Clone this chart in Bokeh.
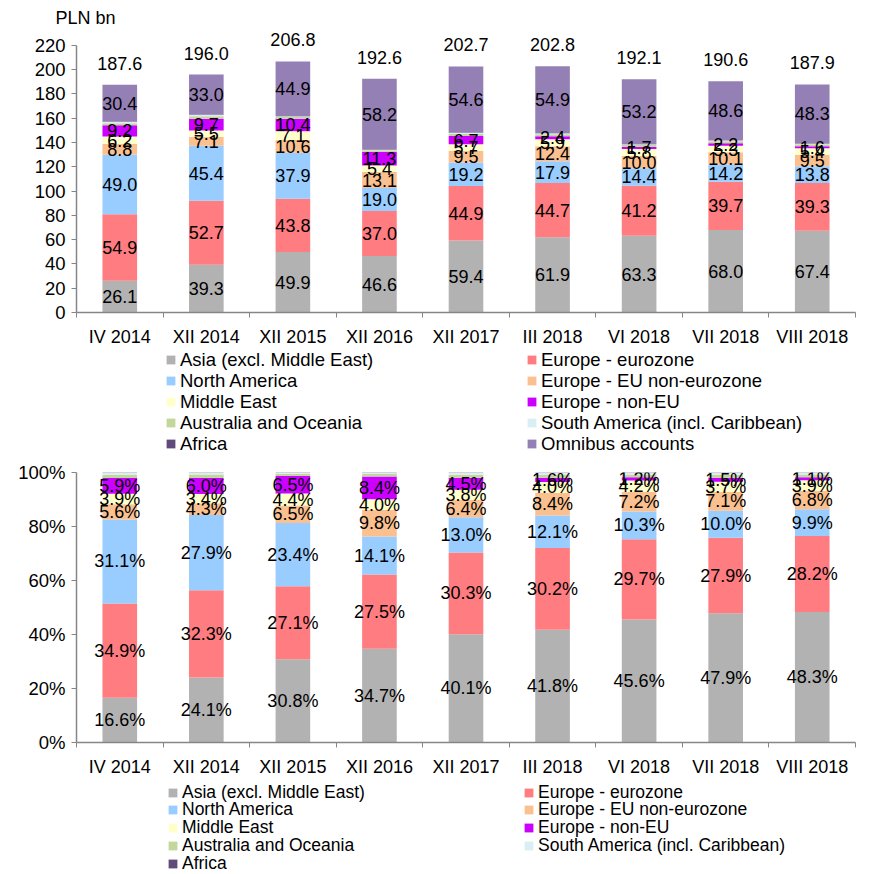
from bokeh.plotting import figure
from bokeh.models import (Range1d, FixedTicker, Legend, LegendItem,
                          ColumnDataSource, PrintfTickFormatter)
from bokeh.layouts import column
from bokeh.embed import file_html
from bokeh.resources import INLINE
from bokeh.core.properties import value

FONT = "Liberation Sans"

categories = ["IV 2014", "XII 2014", "XII 2015", "XII 2016", "XII 2017",
              "III 2018", "VI 2018", "VII 2018", "VIII 2018"]

series_names = ["Asia (excl. Middle East)", "Europe - eurozone", "North America",
                "Europe - EU non-eurozone", "Middle East", "Europe - non-EU",
                "Australia and Oceania", "South America (incl. Caribbean)",
                "Africa", "Omnibus accounts"]
colors = ["#B2B2B2", "#FF7C80", "#99CCFF", "#FAC090", "#FFFFCC", "#CC00FF",
          "#C3D69B", "#DAEEF3", "#604A7B", "#9580B5"]

# Top chart, PLN bn
asia = [26.1, 39.3, 49.9, 46.6, 59.4, 61.9, 63.3, 68.0, 67.4]
eurozone = [54.9, 52.7, 43.8, 37.0, 44.9, 44.7, 41.2, 39.7, 39.3]
north_america = [49.0, 45.4, 37.9, 19.0, 19.2, 17.9, 14.4, 14.2, 13.8]
eu_non_euro = [8.8, 7.1, 10.6, 13.1, 9.5, 12.4, 10.0, 10.1, 9.5]
middle_east = [6.2, 5.5, 7.1, 5.4, 5.7, 5.9, 5.8, 5.3, 5.4]
non_eu = [9.2, 9.7, 10.4, 11.3, 6.7, 2.4, 1.7, 2.2, 1.6]
australia = [1.8, 2.0, 1.3, 1.2, 1.6, 1.6, 1.5, 1.5, 1.6]
south_america = [0.9, 1.0, 0.6, 0.5, 0.8, 0.8, 0.7, 0.7, 0.7]
africa = [0.3, 0.3, 0.3, 0.3, 0.3, 0.3, 0.3, 0.3, 0.3]
omnibus = [30.4, 33.0, 44.9, 58.2, 54.6, 54.9, 53.2, 48.6, 48.3]
totals = [187.6, 196.0, 206.8, 192.6, 202.7, 202.8, 192.1, 190.6, 187.9]

# Bottom chart, % (excluding omnibus accounts)
asia_pct = [16.6, 24.1, 30.8, 34.7, 40.1, 41.8, 45.6, 47.9, 48.3]
eurozone_pct = [34.9, 32.3, 27.1, 27.5, 30.3, 30.2, 29.7, 27.9, 28.2]
north_america_pct = [31.1, 27.9, 23.4, 14.1, 13.0, 12.1, 10.3, 10.0, 9.9]
eu_non_euro_pct = [5.6, 4.3, 6.5, 9.8, 6.4, 8.4, 7.2, 7.1, 6.8]
middle_east_pct = [3.9, 3.4, 4.4, 4.0, 3.8, 4.0, 4.2, 3.7, 3.9]
non_eu_pct = [5.9, 6.0, 6.5, 8.4, 4.5, 1.6, 1.2, 1.5, 1.1]
australia_pct = [1.2, 1.3, 0.8, 0.9, 1.1, 1.1, 1.1, 1.1, 1.1]
south_america_pct = [0.6, 0.5, 0.3, 0.4, 0.6, 0.6, 0.5, 0.6, 0.5]
africa_pct = [0.2, 0.2, 0.2, 0.2, 0.2, 0.2, 0.2, 0.2, 0.2]

top_ticks = [0, 20, 40, 60, 80, 100, 120, 140, 160, 180, 200, 220]
bottom_ticks = [0, 20, 40, 60, 80, 100]

AXIS_COLOR = "#868686"
xs = [i + 0.5 for i in range(len(categories))]
boundaries = list(range(len(categories) + 1))
W = 861
FRAME_LEFT = 76


def make_fig(height, border_top, border_bottom, y_max, y_bound, y_ticks):
    p = figure(width=W, height=height, output_backend="svg", toolbar_location=None,
               x_range=Range1d(0, len(categories)), y_range=Range1d(0, y_max),
               min_border_left=FRAME_LEFT, min_border_right=6,
               min_border_top=border_top, min_border_bottom=border_bottom)
    p.outline_line_color = None
    p.grid.visible = False
    xa = p.xaxis[0]
    xa.ticker = FixedTicker(ticks=xs, minor_ticks=boundaries)
    xa.major_label_overrides = {x: c for x, c in zip(xs, categories)}
    xa.major_tick_line_color = None
    xa.major_tick_out = 0
    xa.major_tick_in = 0
    xa.minor_tick_line_color = AXIS_COLOR
    xa.minor_tick_out = 5
    xa.minor_tick_in = 0
    xa.axis_line_color = AXIS_COLOR
    xa.axis_line_width = 1.5
    xa.major_label_text_font = FONT
    xa.major_label_text_font_size = "18px"
    xa.major_label_text_color = "black"
    xa.major_label_standoff = 9
    ya = p.yaxis[0]
    ya.ticker = FixedTicker(ticks=y_ticks)
    ya.bounds = (0, y_bound)
    ya.minor_tick_line_color = None
    ya.major_tick_line_color = AXIS_COLOR
    ya.major_tick_out = 5
    ya.major_tick_in = 0
    ya.axis_line_color = AXIS_COLOR
    ya.axis_line_width = 1.5
    ya.major_label_text_font = FONT
    ya.major_label_text_font_size = "18.5px"
    ya.major_label_text_color = "black"
    ya.major_label_standoff = 6
    return p


def stack(p, series, labelled, fmt, font_size):
    keys = [f"s{i}" for i in range(len(series))]
    data = {"x": xs}
    for k, s in zip(keys, series):
        data[k] = s
    src = ColumnDataSource(data)
    p.vbar_stack(keys, x="x", width=0.4, color=colors[:len(series)],
                 line_color=None, source=src)
    lx, ly, lt = [], [], []
    bottoms = [0.0] * len(categories)
    for s, lab in zip(series, labelled):
        for i, v in enumerate(s):
            if lab:
                lx.append(xs[i])
                ly.append(bottoms[i] + v / 2)
                lt.append(fmt.format(v))
            bottoms[i] += v
    p.text(x=lx, y=ly, text=lt, text_align="center", text_baseline="middle",
           text_font=value(FONT), text_font_size=font_size, text_color="black")


ITEM_H = 22


def legend_fig(height, fig_top, series, entries, font_size):
    q = figure(width=W, height=height, output_backend="svg", toolbar_location=None,
               x_range=Range1d(0, len(categories)), y_range=Range1d(0, 1),
               x_axis_type=None, y_axis_type=None, min_border=0,
               min_border_left=0, min_border_right=0, min_border_top=0,
               min_border_bottom=0)
    q.outline_line_color = None
    q.grid.visible = False
    for j, gx, cy in entries:
        r = q.vbar(x=xs, top=series[j], width=0.4, color=colors[j],
                   line_color=None, visible=False)
        vy = height - (cy - fig_top) - ITEM_H / 2
        lg = Legend(items=[LegendItem(label=series_names[j], renderers=[r])],
                    location=(gx - FRAME_LEFT, vy), orientation="vertical",
                    glyph_width=11, glyph_height=11, label_standoff=4,
                    label_height=ITEM_H, spacing=0, padding=0, margin=0,
                    border_line_color=None, background_fill_alpha=0,
                    label_text_font=FONT, label_text_font_size=font_size,
                    label_text_color="black")
        q.add_layout(lg, "center")
    return q


# ---------- Top chart ----------
p1 = make_fig(349, 30, 36, 232.31, 220, top_ticks)
p1.title.text = "PLN bn"
p1.title.align = "left"
p1.title.offset = -21
p1.title.standoff = 6
p1.title.text_font = FONT
p1.title.text_font_size = "18px"
p1.title.text_font_style = "normal"
p1.title.text_color = "black"
top_series = [asia, eurozone, north_america, eu_non_euro, middle_east, non_eu,
              australia, south_america, africa, omnibus]
top_lab = [True, True, True, True, True, True, False, False, False, True]
stack(p1, top_series, top_lab, "{:.1f}", "18px")
p1.text(x=xs, y=totals, text=[f"{t:.1f}" for t in totals], text_align="center",
        text_baseline="bottom", y_offset=-15, text_font=value(FONT),
        text_font_size="18px", text_color="black")

top_rows = [359.5, 380.5, 401.5, 422.5, 443.5]
l1_entries = ([(j, 165, top_rows[k]) for k, j in enumerate([0, 2, 4, 6, 8])] +
              [(j, 526, top_rows[k]) for k, j in enumerate([1, 3, 5, 7, 9])])
l1 = legend_fig(105, 349, top_series, l1_entries, "18.5px")

# ---------- Bottom chart ----------
p2 = make_fig(325, 18, 36, 100, 100, bottom_ticks)
p2.yaxis[0].formatter = PrintfTickFormatter(format="%d%%")
bot_series = [asia_pct, eurozone_pct, north_america_pct, eu_non_euro_pct,
              middle_east_pct, non_eu_pct, australia_pct, south_america_pct, africa_pct]
bot_lab = [True, True, True, True, True, True, False, False, False]
stack(p2, bot_series, bot_lab, "{:.1f}%", "18px")

bot_rows = [792, 809.75, 827.5, 845.25, 863]
l2_entries = ([(j, 167, bot_rows[k]) for k, j in enumerate([0, 2, 4, 6, 8])] +
              [(j, 523, bot_rows[k]) for k, j in enumerate([1, 3, 5, 7])])
l2 = legend_fig(94, 779, bot_series, l2_entries, "17.5px")

layout = column(p1, l1, p2, l2, spacing=0)
open("out.html", "w").write(file_html(layout, INLINE))
